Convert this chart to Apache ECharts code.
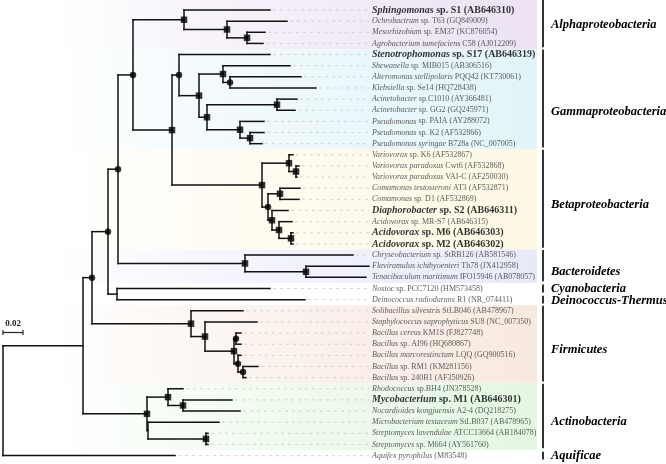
<!DOCTYPE html>
<html><head><meta charset="utf-8">
<script src="https://cdn.jsdelivr.net/npm/echarts@6/dist/echarts.min.js"></script>
<style>html,body{margin:0;padding:0;background:#fff}#c{width:666px;height:464px}</style>
</head><body><div id="c"></div>
<script>
// ---------- DATA ----------
const leafItalic = [
 'Sphingomonas','Ochrobactrum','Mesorhizobium','Agrobacterium tumefaciens',
 'Stenotrophomonas','Shewanella','Alteromonas stellipolaris','Klebsiella','Acinetobacter','Acinetobacter',
 'Pseudomonas','Pseudomonas','Pseudomonas syringae',
 'Variovorax','Variovorax paradoxus','Variovorax paradoxus','Comamonas testosteroni','Comamonas',
 'Diaphorobacter','Acidovorax','Acidovorax','Acidovorax',
 'Chryseobacterium','Flaviramulus ichthyoenteri','Tenacibaculum maritimum',
 'Nostoc','Deinococcus radiodurans',
 'Solibacillus silvestris','Staphylococcus saprophyticus','Bacillus cereus','Bacillus','Bacillus marcorestinctum','Bacillus','Bacillus',
 'Rhodococcus','Mycobacterium','Nocardioides kongjuensis','Microbacterium testaceum','Streptomyces lavendulae','Streptomyces',
 'Aquifex pyrophilus'
];
const leafRoman = [
 'sp. S1 (AB646310)','sp. T63 (GQ849009)','sp. EM37 (KC876054)','C58 (AJ012209)',
 'sp. S17 (AB646319)','sp. MIB015 (AB306516)','PQQ42 (KT730061)','sp. Se14 (HQ728438)','sp.C1010 (AY366481)','sp. GG2 (GQ245971)',
 'sp. PAIA (AY288072)','sp. K2 (AF532866)','B728a (NC_007005)',
 'sp. K6 (AF532867)','Cwt6 (AF532868)','VAI-C (AF250030)','AT3 (AF532871)','sp. D1 (AF532869)',
 'sp. S2 (AB646311)','sp. MR-S7 (AB646315)','sp. M6 (AB646303)','sp. M2 (AB646302)',
 'sp. StRB126 (AB581546)','Th78 (JX412958)','IFO15946 (AB078057)',
 'sp. PCC7120 (HM573458)','R1 (NR_074411)',
 'StLB046 (AB478967)','SU8 (NC_007350)','KM1S (FJ827748)','sp. AI96 (HQ680867)','LQQ (GQ900516)','sp. RM1 (KM281156)','sp. 240B1 (AF350926)',
 'sp.BH4 (JN378528)','sp. M1 (AB646301)','A2-4 (DQ218275)','StLB037 (AB478965)','ATCC13664 (AB184078)','sp. M664 (AY561760)',
 '(M83548)'
];
const boldLeaves = [0, 4, 18, 20, 21, 35];

const groupNames = ['Alphaproteobacteria','Gammaproteobacteria','Betaproteobacteria','Bacteroidetes','Cyanobacteria','Deinococcus-Thermus','Firmicutes','Actinobacteria','Aquificae'];
const groupFirst = [0, 4, 13, 22, 25, 26, 27, 34, 40];
const groupLast  = [3, 12, 21, 24, 25, 26, 33, 39, 40];

const scaleBarLength = 0.02;

// Tree (Newick, branch lengths in substitutions/site; internal labels: s = square, c = circle node marker)
const cladeAlpha = '(L0:0.086,(L1:0.060,(L2:0.018,L3:0.016)s:0.020)s:0.043)s';
const cladeGammaI = '(L5:0.067,(L6:0.071,L7:0.086)c:0.007)s';
const cladeGammaK = '((L8:0.020,L9:0.018)s:0.070,(L10:0.024,(L11:0.014,L12:0.012)s:0.010)s:0.033)s';
const cladeGamma = '(L4:0.091,(' + cladeGammaI + ':0.024,' + cladeGammaK + ':0.008)s:0.020)c';
const cladeBetaN = '(L18:0.016,(L19:0.013,(L20:0.002,L21:0.002)s:0.012)s:0.007)s';
const cladeBeta = '((L13:0.004,(L14:0.003,L15:0.001)s:0.007)s:0.027,((L16:0.020,L17:0.019)s:0.012,' + cladeBetaN + ':0.004)c:0.006)s';
const cladeBact = '(L22:0.108,(L23:0.063,L24:0.060)s:0.061)s';
const cladeFirm = '(L27:0.052,(L28:0.052,((L29:0.005,L30:0.005)c:0.002,(L31:0.003,(L32:0.015,L33:0.003)c:0.005)c:0.004)s:0.029)s:0.014)s';
const cladeActino = '((L34:0.015,(L35:0.049,L36:0.057)s:0.015)s:0.021,(L37:0.071,(L38:0.002,L39:0.002)s:0.058):0.001)s';
const treeNewick =
 '((((((' + cladeAlpha + ':0.051,(' + cladeGamma + ':0.007,' + cladeBeta + ':0.090)s:0.039)c:0.015,' + cladeBact + ':0.127)c:0.010,' +
 '(L25:0.153,L26:0.188):0.009)c:0.016,' + cladeFirm + ':0.099)c:0.009,' + cladeActino + ':0.064):0.080,L40:0.172);';

// ---------- STYLE ----------
const bandColors = {
 'Alphaproteobacteria':[236,226,243],'Gammaproteobacteria':[226,244,249],'Betaproteobacteria':[253,248,228],
 'Bacteroidetes':[232,234,250],'Firmicutes':[248,233,223],'Actinobacteria':[228,247,226]
};
const groupLabelShift = { 'Alphaproteobacteria': -0.15, 'Gammaproteobacteria': 1.1, 'Cyanobacteria': 0.05, 'Deinococcus-Thermus': 0.1, 'Aquificae': 0.05 };
const LABEL_X = 0.369, DASH_END = 0.366, BAR_X = 0.540, GLABEL_X = 0.546, BAND_L = 0.05, BAND_R = 0.534;

// ---------- PARSE ----------
function parseNewick(s) {
  let i = 0;
  function node() {
    const n = { children: [], name: '', len: 0 };
    if (s[i] === '(') {
      i++;
      n.children.push(node());
      while (s[i] === ',') { i++; n.children.push(node()); }
      i++; // ')'
    }
    let name = '';
    while (i < s.length && !',():;'.includes(s[i])) name += s[i++];
    n.name = name;
    if (s[i] === ':') {
      i++; let num = '';
      while (i < s.length && !',();'.includes(s[i])) num += s[i++];
      n.len = parseFloat(num);
    }
    return n;
  }
  return node();
}
const root = parseNewick(treeNewick);
const segs = [], marks = [], tips = [];
function layout(n, x0) {
  n.x = x0 + n.len;
  if (!n.children.length) {
    n.y = parseInt(n.name.slice(1), 10);
    tips.push([n.x, n.y]);
  } else {
    n.children.forEach(c => layout(c, n.x));
    const f = n.children[0].y, l = n.children[n.children.length - 1].y;
    n.y = (f + l) / 2;
    segs.push([n.x, f, n.x, l]);
    if (n.name === 's' || n.name === 'c') marks.push([n.x, n.y, n.name]);
  }
  return n;
}
layout(root, 0);
(function addH(n, px) {
  if (px !== null) segs.push([px, n.y, n.x, n.y]);
  n.children.forEach(c => addH(c, n.x));
})(root, null);

const dashData = tips.filter(t => t[0] < DASH_END - 0.004).map(t => [t[0] + 0.003, t[1], DASH_END, t[1]]);
const labelData = leafItalic.map((g, k) => [LABEL_X, k]);
const bandData = [], groupData = [];
groupNames.forEach((g, k) => {
  if (bandColors[g]) bandData.push([groupFirst[k], groupLast[k], k]);
  groupData.push([groupFirst[k], groupLast[k], k]);
});

// ---------- CHART ----------
const chart = echarts.init(document.getElementById('c'), null, { renderer: 'canvas' });
const serif = '"Liberation Serif","DejaVu Serif",serif';
chart.setOption({
  animation: false,
  backgroundColor: '#fff',
  grid: { left: 3, right: 0, top: 10, bottom: 8.4 },
  xAxis: { type: 'value', min: 0, max: 0.663, show: false },
  yAxis: { type: 'value', min: 0, max: 40, inverse: true, show: false },
  series: [
    { type: 'custom', z: 1, data: bandData, encode: { x: -1, y: [0, 1] },
      renderItem(p, api) {
        const f = api.value(0), l = api.value(1), g = groupNames[api.value(2)];
        const a = api.coord([BAND_L, f - 0.5]), b = api.coord([BAND_R, l + 0.5]);
        const top = f === 0 ? 0 : a[1];
        const c = bandColors[g];
        return { type: 'rect', shape: { x: a[0], y: top, width: b[0] - a[0], height: b[1] - top },
          style: { fill: new echarts.graphic.LinearGradient(0, 0, 1, 0, [
            { offset: 0, color: `rgba(${c[0]},${c[1]},${c[2]},0)` },
            { offset: 0.4, color: `rgba(${c[0]},${c[1]},${c[2]},0.5)` },
            { offset: 1, color: `rgba(${c[0]},${c[1]},${c[2]},1)` }]) } };
      } },
    { type: 'custom', z: 2, data: dashData, encode: { x: [0, 2], y: [1, 3] },
      renderItem(p, api) {
        const a = api.coord([api.value(0), api.value(1)]), b = api.coord([api.value(2), api.value(3)]);
        return { type: 'line', shape: { x1: a[0], y1: a[1], x2: b[0], y2: b[1] },
          style: { stroke: '#cccccc', lineWidth: 0.8, lineDash: [3, 4] } };
      } },
    { type: 'custom', z: 3, data: segs, encode: { x: [0, 2], y: [1, 3] },
      renderItem(p, api) {
        const a = api.coord([api.value(0), api.value(1)]), b = api.coord([api.value(2), api.value(3)]);
        return { type: 'line', shape: { x1: a[0], y1: a[1], x2: b[0], y2: b[1] },
          style: { stroke: '#111', lineWidth: 1.5, lineCap: 'square' } };
      } },
    { type: 'scatter', z: 4, data: marks, symbol: v => v[2] === 's' ? 'rect' : 'circle',
      symbolSize: 6.5, itemStyle: { color: '#000' } },
    { type: 'scatter', z: 5, data: labelData, symbolSize: 0,
      label: { show: true, position: 'right', distance: 0,
        formatter: p => {
          const k = p.data[1];
          return boldLeaves.includes(k) ? `{bi|${leafItalic[k]}}{b| ${leafRoman[k]}}` : `{i|${leafItalic[k]}}{r| ${leafRoman[k]}}`;
        },
        rich: {
          i: { fontFamily: serif, fontStyle: 'italic', fontSize: 8, color: '#333' },
          r: { fontFamily: serif, fontSize: 8, color: '#333' },
          bi: { fontFamily: serif, fontStyle: 'italic', fontWeight: 'bold', fontSize: 10, color: '#000' },
          b: { fontFamily: serif, fontWeight: 'bold', fontSize: 10, color: '#000' }
        } } },
    { type: 'custom', z: 6, data: groupData, encode: { x: -1, y: [0, 1] },
      renderItem(p, api) {
        const f = api.value(0), l = api.value(1), k = api.value(2);
        const single = f === l;
        const a = api.coord([BAR_X, single ? f - 0.35 : f - 0.45]);
        const b = api.coord([BAR_X, l + 0.35]);
        const top = f === 0 ? 0 : a[1];
        const sh = groupLabelShift[groupNames[k]] ?? 0.5;
        const t = api.coord([GLABEL_X, (f + l) / 2 + sh]);
        return { type: 'group', children: [
          { type: 'rect', shape: { x: a[0] - 1, y: top, width: 2, height: b[1] - top }, style: { fill: '#333' } },
          { type: 'text', x: t[0] + 2, y: t[1], style: { text: groupNames[k], fontFamily: serif, fontStyle: 'italic',
            fontWeight: 'bold', fontSize: 12.5, fill: '#000', verticalAlign: 'middle', align: 'left' } }
        ] };
      } },
    { type: 'custom', z: 7, data: [[0, 28.95, scaleBarLength]], encode: { x: [0], y: [1] },
      renderItem(p, api) {
        const a = api.coord([api.value(0), api.value(1)]), b = api.coord([api.value(0) + api.value(2), api.value(1)]);
        return { type: 'group', children: [
          { type: 'line', shape: { x1: a[0], y1: a[1], x2: b[0], y2: b[1] }, style: { stroke: '#222', lineWidth: 1.2 } },
          { type: 'line', shape: { x1: a[0], y1: a[1] - 2.5, x2: a[0], y2: a[1] + 2.5 }, style: { stroke: '#222', lineWidth: 1.2 } },
          { type: 'line', shape: { x1: b[0], y1: b[1] - 2.5, x2: b[0], y2: b[1] + 2.5 }, style: { stroke: '#222', lineWidth: 1.2 } },
          { type: 'text', x: (a[0] + b[0]) / 2, y: a[1] - 4, style: { text: String(api.value(2)), fontFamily: serif,
            fontWeight: 'bold', fontSize: 9, fill: '#222', align: 'center', verticalAlign: 'bottom' } }
        ] };
      } }
  ]
});
</script></body></html>
